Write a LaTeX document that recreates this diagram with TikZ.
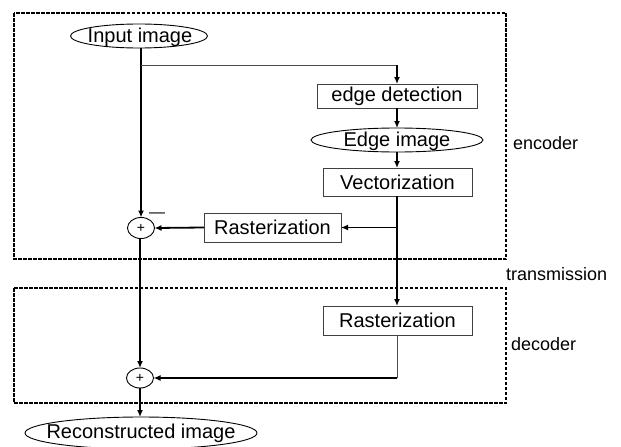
\documentclass[tikz,border=0pt]{standalone}
\usepackage{fontspec}
\setmainfont{Liberation Sans}
\usetikzlibrary{arrows.meta,shapes.geometric}
\tikzset{
  every node/.style={inner sep=0pt, outer sep=0pt},
  blk/.style={draw=black!75, line width=0.9pt, rectangle, font=\fontsize{20}{24}\selectfont},
  oval/.style={draw, line width=0.9pt, ellipse},
  ovaltext/.style={font=\fontsize{20}{24}\selectfont},
  sumnode/.style={draw, line width=0.9pt, ellipse, minimum width=27pt, minimum height=21pt, font=\fontsize{14}{16}\selectfont},
  lbl/.style={anchor=west, font=\fontsize{18}{22}\selectfont},
  zone/.style={draw, line width=1.3pt, dash pattern=on 3.5pt off 1.5pt},
  thick line/.style={line width=1.8pt},
  thin line/.style={line width=1pt, draw=black!70},
  arr/.style={-{Latex[length=7pt,width=6pt]}},
}
\begin{document}
\begin{tikzpicture}[x=1pt,y=-1pt]
\useasboundingbox (0,0) rectangle (621,447);
\draw[zone] (14,13) rectangle (506,259);
\draw[zone] (14,288) rectangle (506,403);

\node[oval, minimum width=137pt, minimum height=24pt] (in) at (139,36) {};
\node[ovaltext] (inT) at (140,37) {Input image};
\node[blk, minimum width=160pt, minimum height=24pt] (ed) at (397,96) {edge detection};
\node[oval, minimum width=172pt, minimum height=24pt] (ei) at (397,140) {};
\node[ovaltext] (eiT) at (397,141) {Edge image};
\node[blk, minimum width=149pt, minimum height=28pt] (vec) at (397.5,182) {Vectorization};
\node[blk, minimum width=137pt, minimum height=29pt] (r1) at (272.5,227.5) {Rasterization};
\node[blk, minimum width=149pt, minimum height=29pt] (r2) at (397.5,320.5) {Rasterization};
\node[sumnode] (p1) at (141,228) {+};
\node[sumnode, minimum height=20pt] (p2) at (140,378) {+};
\node[oval, minimum width=232pt, minimum height=32pt] (rec) at (141,433) {};
\node[ovaltext] (recT) at (141,433) {Reconstructed image};

\node[lbl] (enc) at (513,143) {encoder};
\node[lbl] (tr) at (506,274) {transmission};
\node[lbl] (dec) at (511,344) {decoder};
\node[font=\fontsize{16}{16}\selectfont] (minus) at (157,215) {\textemdash};

\coordinate (b1) at (141,65);
\coordinate (b1r) at (397,65);
\coordinate (b2) at (397,227.5);
\coordinate (b3) at (397,378);

\draw[thick line, arr] (in.south -| p1) -- (p1.north);
\draw[thin line] (b1) -- (b1r);
\draw[thick line, arr] (b1r) -- (ed.north -| b1r);
\draw[thick line, arr] (ed.south -| b1r) -- (ei.north -| b1r);
\draw[thick line, arr] (ei.south -| b1r) -- (vec.north -| b1r);
\draw[thick line, arr] (vec.south -| b1r) -- (r2.north -| b1r);
\draw[thick line, arr] (b2) -- (r1.east);
\draw[thick line, arr] (r1.west) -- (p1.east);
\draw[thick line, arr] (p1.south -| p2) -- (p2.north);
\draw[thin line] (r2.south -| b3) -- (b3);
\draw[thick line, arr] (b3) -- (p2.east);
\draw[thick line, arr] (p2.south) -- (rec.north -| p2);
\end{tikzpicture}
\end{document}
